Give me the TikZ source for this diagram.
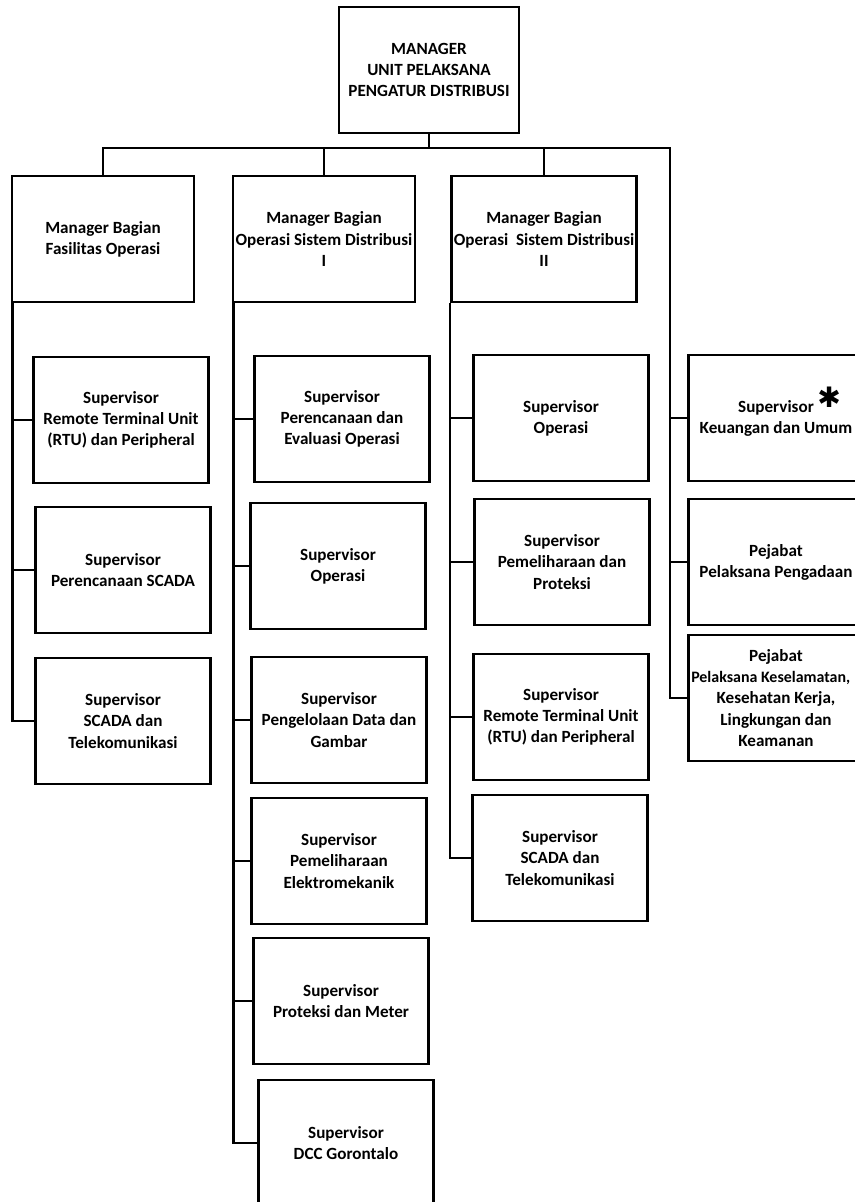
\documentclass[tikz,border=0pt]{standalone}
\usepackage{fontspec}
\setmainfont{Carlito}
\newfontfamily\symfont{DejaVu Sans}
\newcommand{\pxu}{0.03cm}
\tikzset{
  blk/.style   = {draw=black, line width=2.4pt, align=center, inner sep=2pt,
                  font=\bfseries\fontsize{14.6pt}{18pt}\selectfont},
  chief/.style = {blk, minimum width=180*\pxu, minimum height=126*\pxu},
  mgr/.style   = {blk, minimum width=182*\pxu, minimum height=126*\pxu},
  sup/.style   = {blk, minimum width=175*\pxu, minimum height=126*\pxu},
  link/.style  = {draw=black, line width=2pt},
}

\begin{document}
\begin{tikzpicture}[x=\pxu, y=-\pxu]
  \useasboundingbox (0,0) rectangle (854,1202);

  %% ---------------- top ----------------
  \node[chief] (top) at (429,70) {MANAGER\\UNIT PELAKSANA\\PENGATUR DISTRIBUSI};

  %% ---------------- managers ----------------
  \foreach \n/\x/\txt in {
      mA/103/{Manager Bagian\\Fasilitas Operasi},
      mB/324/{Manager Bagian\\Operasi Sistem Distribusi\\I},
      mC/544/{Manager Bagian\\Operasi\ \ Sistem Distribusi\\II}} {
    \node[mgr] (\n) at (\x,239) {\txt};
  }

  %% ---------------- supervisors ----------------
  \foreach \n/\x/\y/\txt in {
      a1/121/420/{Supervisor\\Remote Terminal Unit\\(RTU) dan Peripheral},
      a2/123/570/{Supervisor\\Perencanaan SCADA},
      a3/123/721/{Supervisor\\SCADA dan\\Telekomunikasi},
      b1/342/419/{Supervisor\\Perencanaan dan\\Evaluasi Operasi},
      b2/338/566/{Supervisor\\Operasi},
      b3/339/720/{Supervisor\\Pengelolaan Data dan\\Gambar},
      b4/339/861/{Supervisor\\Pemeliharaan\\Elektromekanik},
      b5/341/1001/{Supervisor\\Proteksi dan Meter},
      b6/346/1143/{Supervisor\\DCC Gorontalo},
      c1/561/418/{Supervisor\\Operasi},
      c2/562/562/{Supervisor\\Pemeliharaan dan\\Proteksi},
      c3/561/717/{Supervisor\\Remote Terminal Unit\\(RTU) dan Peripheral},
      c4/560/858/{Supervisor\\SCADA dan\\Telekomunikasi},
      d1/776/418/{Supervisor\rlap{\hspace{3pt}\smash{\raisebox{4pt}{\symfont\fontsize{24pt}{24pt}\selectfont ✱}}}\\Keuangan dan Umum},
      d2/776/562/{Pejabat\\Pelaksana Pengadaan},
      d3/776/698/{Pejabat\\\hspace*{-9pt}{\fontsize{13.6pt}{18pt}\selectfont Pelaksana Keselamatan,}\\Kesehatan Kerja,\\Lingkungan dan\\Keamanan}} {
    \node[sup] (\n) at (\x,\y) {\txt};
  }

  %% ---------------- connectors ----------------
  \coordinate (busR) at (670,148);
  \draw[link] (top.south) -- (top.south |- busR);
  \draw[link] (mA.north) -- (mA.north |- busR) -- (busR) -- (busR |- d3.west) -- (d3.west);
  \foreach \n in {mB,mC} \draw[link] (\n.north |- busR) -- (\n.north);
  \foreach \n in {d1,d2} \draw[link] (busR |- \n.west) -- (\n.west);

  \draw[link] ([xshift=2*\pxu]mA.south west) -- ([xshift=2*\pxu]mA.south west |- a3.west) -- (a3.west);
  \foreach \n in {a1,a2} \draw[link] ([xshift=2*\pxu]mA.south west |- \n.west) -- (\n.west);

  \draw[link] ([xshift=2*\pxu]mB.south west) -- ([xshift=2*\pxu]mB.south west |- b6.west) -- (b6.west);
  \foreach \n in {b1,b2,b3,b4,b5} \draw[link] ([xshift=2*\pxu]mB.south west |- \n.west) -- (\n.west);

  \draw[link] (mC.south west) -- (mC.south west |- c4.west) -- (c4.west);
  \foreach \n in {c1,c2,c3} \draw[link] (mC.south west |- \n.west) -- (\n.west);

\end{tikzpicture}
\end{document}
